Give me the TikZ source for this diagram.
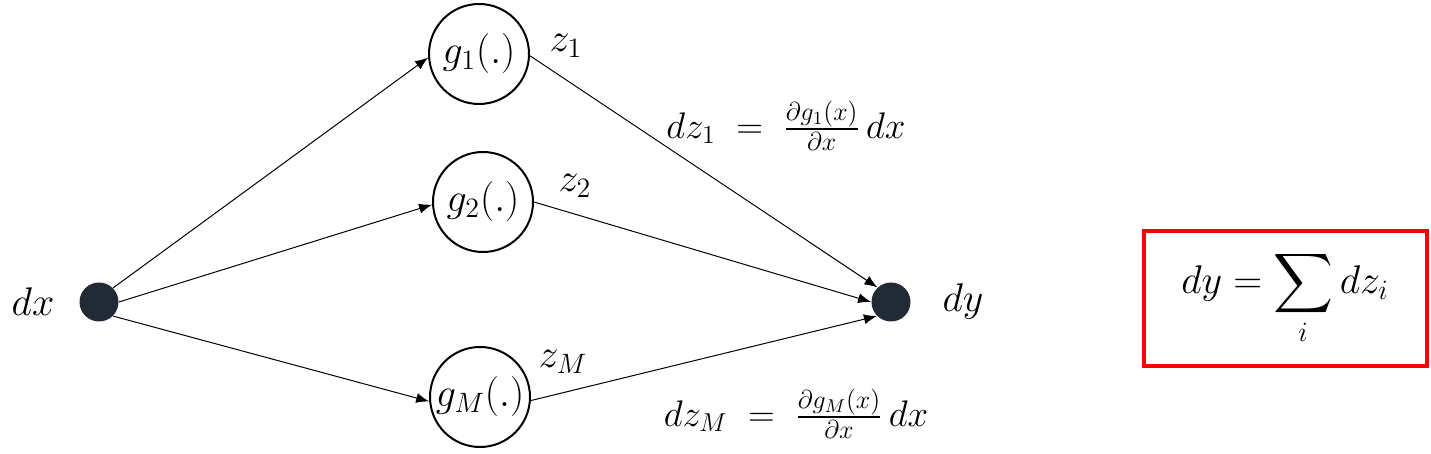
\RequirePackage{fix-cm}
\documentclass[tikz,border=0pt]{standalone}
\usepackage{amsmath}
\usetikzlibrary{arrows.meta}
\definecolor{dotcol}{RGB}{34,42,53}
\definecolor{boxred}{RGB}{255,0,0}
\begin{document}
\begin{tikzpicture}[x=0.5pt,y=-0.5pt,
  every node/.style={font=\fontsize{20}{24}\selectfont},
  dotnode/.style={circle,fill=dotcol,draw=none,minimum size=19.5pt,inner sep=0pt},
  gnode/.style={circle,draw=black,line width=1pt,minimum size=50pt,inner sep=0pt},
  conn/.style={line width=0.5pt,-{Latex[length=6.5pt,width=5pt]}},
  lbl/.style={inner sep=0pt},
  eqn/.style={inner sep=0pt,font=\fontsize{18.5}{22}\selectfont}]
\useasboundingbox (0,0) rectangle (1431,454);
\node[dotnode] (x) at (99,302) {};
\node[dotnode] (y) at (891,302) {};
\node[gnode] (g1) at (479,54) {$g_1(.)$};
\node[gnode] (g2) at (483,202) {$g_2(.)$};
\node[gnode] (gM) at (480,397) {$g_M(.)$};
\node[lbl] (dxl) at (33,302) {$dx$};
\node[lbl] (dyl) at (963,302) {$dy$};
\node[lbl] (z1) at (566,46) {$z_1$};
\node[lbl] (z2) at (575,186) {$z_2$};
\node[lbl] (zM) at (563,362) {$z_M$};
\node[eqn] (e1) at (786,126) {$dz_1 \;=\; \frac{\partial g_1(x)}{\partial x}\,dx$};
\node[eqn] (eM) at (796,414) {$dz_M \;=\; \frac{\partial g_M(x)}{\partial x}\,dx$};
\draw[conn] (x.45) -- (g1.184);
\draw[conn] (x.0) -- (g2.183);
\draw[conn] (x.-45) -- (gM.185);
\draw[conn] (g1.-2) -- (y.133);
\draw[conn] (g2.0) -- (y.180);
\draw[conn] (gM.-4) -- (y.225);
\draw[draw=boxred,line width=2pt] (1144,231) rectangle (1427,366);
\node[lbl] (sum) at (1285,298) {$\displaystyle dy = \sum_i dz_i$};
\end{tikzpicture}
\end{document}
